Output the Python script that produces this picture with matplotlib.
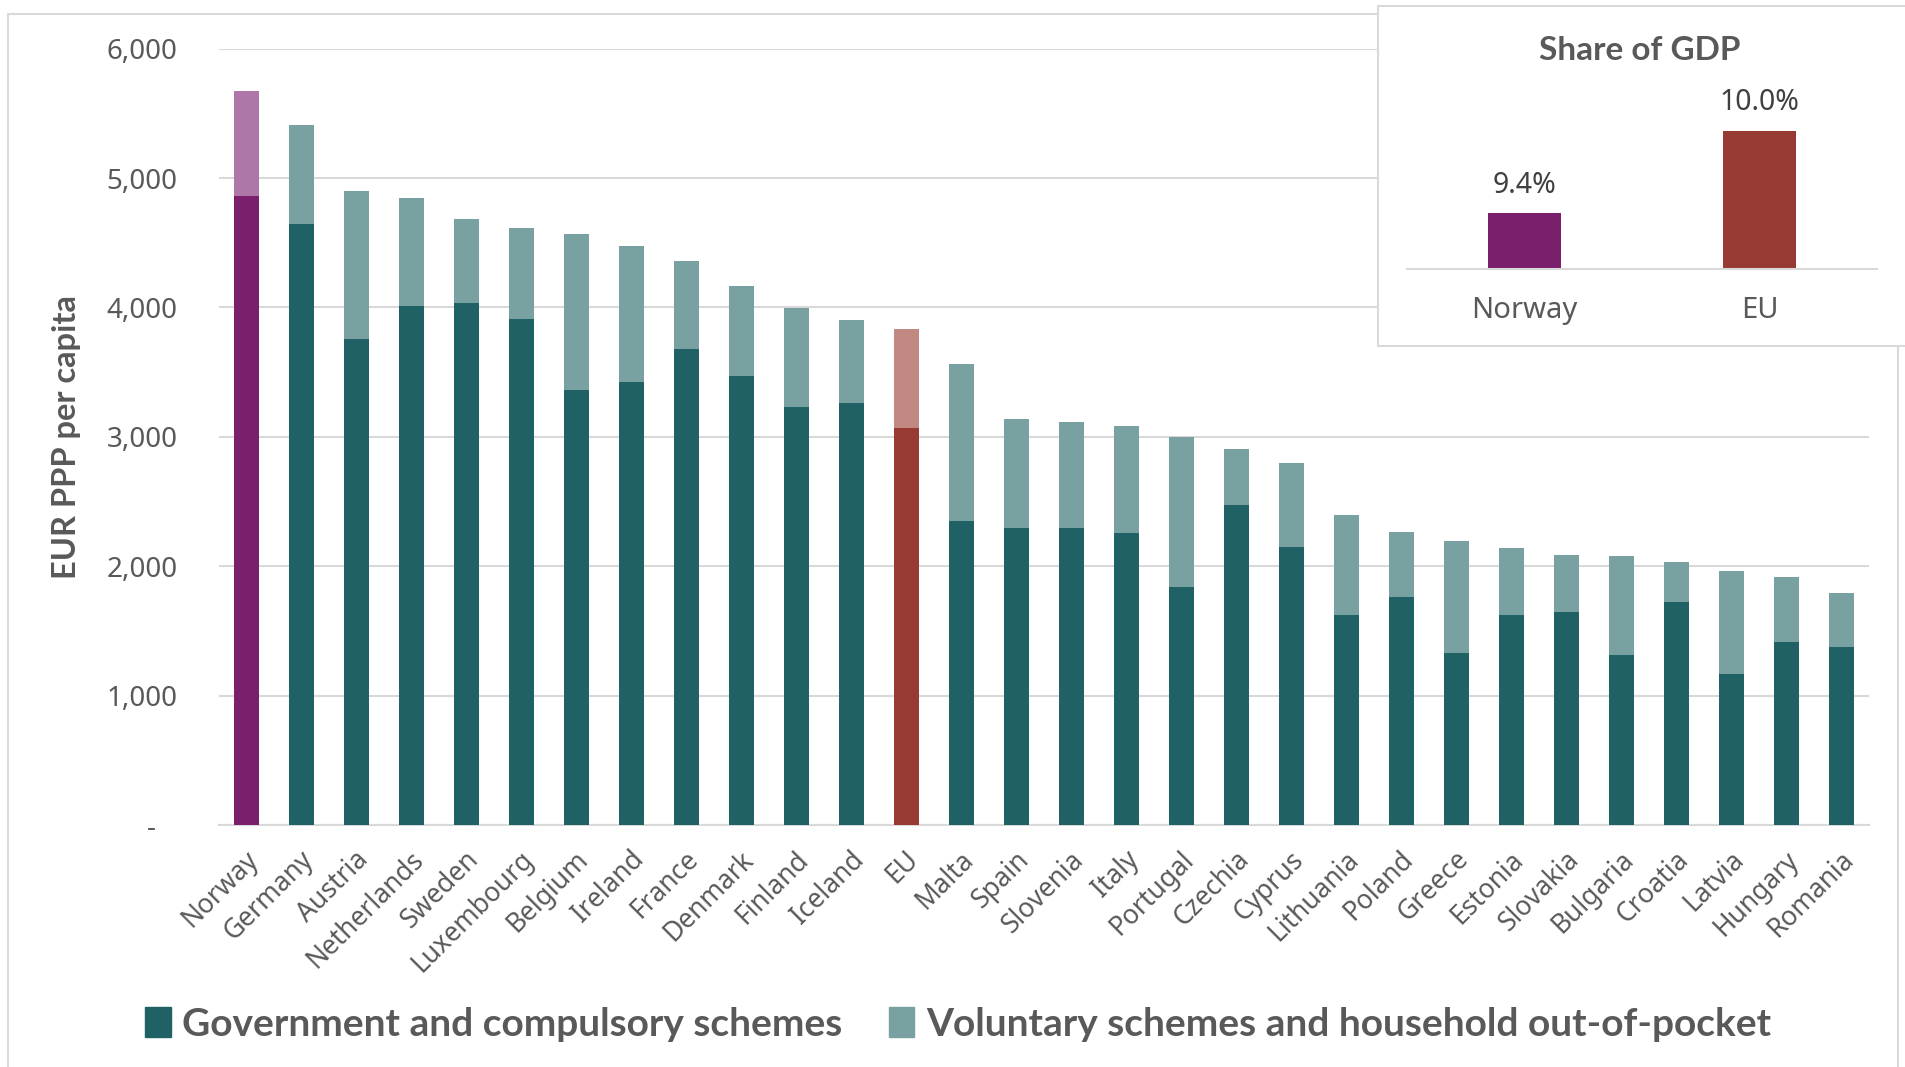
import numpy as np
import matplotlib
matplotlib.use("Agg")
import matplotlib.pyplot as plt
from matplotlib.patches import Rectangle, Patch

# data (EUR PPP per capita)
countries = ["Norway", "Germany", "Austria", "Netherlands", "Sweden", "Luxembourg",
             "Belgium", "Ireland", "France", "Denmark", "Finland", "Iceland", "EU",
             "Malta", "Spain", "Slovenia", "Italy", "Portugal", "Czechia", "Cyprus",
             "Lithuania", "Poland", "Greece", "Estonia", "Slovakia", "Bulgaria",
             "Croatia", "Latvia", "Hungary", "Romania"]
government = [4862, 4647, 3756, 4008, 4034, 3908, 3362, 3423, 3679, 3470, 3230,
              3261, 3070, 2348, 2295, 2298, 2254, 1843, 2472, 2146, 1622, 1760,
              1326, 1621, 1644, 1311, 1721, 1164, 1414, 1373]
total = [5672, 5410, 4897, 4845, 4686, 4611, 4567, 4472, 4359, 4169, 3994, 3903,
         3832, 3559, 3134, 3117, 3084, 2996, 2908, 2794, 2394, 2263, 2191, 2142,
         2083, 2080, 2031, 1964, 1920, 1796]
voluntary = [t - g for t, g in zip(total, government)]

gdp_labels = ["Norway", "EU"]
gdp_share = [9.4, 10.0]

GRAY = "#595959"
GRID = "#D9D9D9"
dark = {"Norway": "#7A1F6B", "EU": "#963A33"}
light = {"Norway": "#AE77A8", "EU": "#C28983"}
TEAL = "#206166"
TEAL_L = "#7AA1A2"
BOLD = ["Lato", "DejaVu Sans"]

plt.rcParams["font.family"] = ["Noto Sans", "DejaVu Sans"]

W, H = 1905, 1067
fig = plt.figure(figsize=(W / 100, H / 100), dpi=100)

# outer chart border
fig.patches.append(Rectangle((8 / W, -0.01), (1898 - 8) / W, 1.01 - 14 / H,
                             transform=fig.transFigure, fill=False,
                             edgecolor=GRID, linewidth=1.5, zorder=0))

ax = fig.add_axes([219 / W, 1 - 825 / H, (1869 - 219) / W, (825 - 48.6) / H])
x = np.arange(len(countries))
gov_cols = [dark.get(c, TEAL) for c in countries]
vol_cols = [light.get(c, TEAL_L) for c in countries]
ax.bar(x, government, width=0.44, color=gov_cols, zorder=3)
ax.bar(x, voluntary, bottom=government, width=0.44, color=vol_cols, zorder=3)

ax.set_xlim(-0.5, len(countries) - 0.5)
ax.set_ylim(0, 6000)
ax.set_yticks(np.arange(0, 6001, 1000))
ax.set_yticklabels(["-   "] + [f"{v:,}" for v in range(1000, 6001, 1000)],
                   fontsize=20, color=GRAY)
ax.yaxis.grid(True, color=GRID, linewidth=1.5, zorder=0)
ax.set_axisbelow(True)
for s in ["top", "right", "left"]:
    ax.spines[s].set_visible(False)
ax.spines["bottom"].set_color(GRID)
ax.spines["bottom"].set_linewidth(1.5)
ax.tick_params(axis="y", length=0, pad=30)
ax.tick_params(axis="x", length=0, pad=22)
ax.set_xticks(x + 0.15)
ax.set_xticklabels(countries, rotation=45, ha="right", va="center",
                   rotation_mode="anchor", fontsize=19, color=GRAY)

fig.text(67 / W, 1 - 437 / H, "EUR PPP per capita", rotation=90, ha="center",
         va="center", fontsize=23.5, fontweight="bold", color=GRAY, family=BOLD)

handles = [Patch(color=TEAL, label="Government and compulsory schemes"),
           Patch(color=TEAL_L, label="Voluntary schemes and household out-of-pocket")]
leg = fig.legend(handles=handles, loc="center", bbox_to_anchor=(0.503, 1 - 1024 / H),
                 ncol=2, frameon=False, handlelength=0.65, handleheight=0.8,
                 handletextpad=0.3, columnspacing=1.2,
                 prop={"size": 28, "weight": "bold", "family": BOLD})
for t in leg.get_texts():
    t.set_color(GRAY)

# inset box: share of GDP
fig.patches.append(Rectangle((1378 / W, 1 - 346 / H), 0.5, (346 - 6) / H,
                             transform=fig.transFigure, facecolor="white",
                             edgecolor=GRID, linewidth=1.5, zorder=5))
fig.text(1640 / W, 1 - 50 / H, "Share of GDP", ha="center", va="center",
         fontsize=24, fontweight="bold", color=GRAY, family=BOLD, zorder=7)

ax2 = fig.add_axes([1407 / W, 1 - 268.5 / H, (1877 - 1407) / W, (268.5 - 103.5) / H],
                   zorder=6)
ax2.patch.set_alpha(0)
xi = np.arange(len(gdp_labels))
ax2.bar(xi, [v - 9.0 for v in gdp_share], bottom=9.0, width=0.31,
        color=[dark[c] for c in gdp_labels])
ax2.set_xlim(-0.5, 1.5)
ax2.set_ylim(9.0, 10.2)
for xx, v in zip(xi, gdp_share):
    ax2.text(xx, v + 0.1, f"{v:.1f}%", ha="center", va="bottom", fontsize=20.5,
             color="#404040")
ax2.set_yticks([])
ax2.set_xticks(xi)
ax2.set_xticklabels(gdp_labels, fontsize=21, color=GRAY)
ax2.tick_params(axis="x", length=0, pad=20)
for s in ["top", "right", "left"]:
    ax2.spines[s].set_visible(False)
ax2.spines["bottom"].set_color(GRID)
ax2.spines["bottom"].set_linewidth(1.5)

fig.savefig("out.png", dpi=100)
